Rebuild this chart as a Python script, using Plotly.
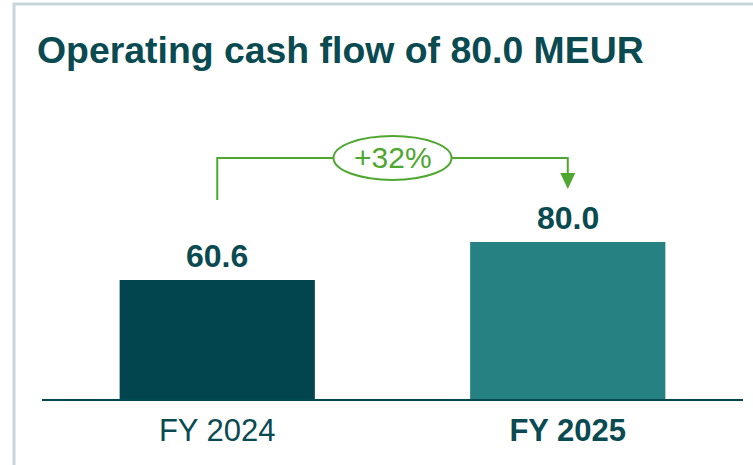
import plotly.graph_objects as go

# ---- data ----
categories = ["FY 2024", "FY 2025"]
values = [60.6, 80.0]
bar_colors = ["#03454F", "#268282"]
label_bold = [False, True]

# ---- styling constants ----
TEXT = "#0A4A51"
GREEN = "#4EA72E"
BORDER = "#C7D6DA"
FONT = "Liberation Sans, Arial, sans-serif"

x_idx = list(range(len(categories)))
growth = (values[1] / values[0] - 1) * 100

fig = go.Figure()
fig.add_trace(go.Bar(
    x=x_idx, y=values, marker=dict(color=bar_colors, line=dict(width=0)),
    width=0.557, hoverinfo="skip",
))

# value labels
for i, v in zip(x_idx, values):
    fig.add_annotation(x=i, y=v, xref="x", yref="y", text=f"<b>{v:.1f}</b>",
                       showarrow=False, yanchor="middle", yshift=24,
                       font=dict(family=FONT, size=32, color=TEXT))

# connector bracket
conn_y = 122.8
fig.add_shape(type="path", xref="x", yref="y",
              path=f"M 0,101.4 L 0,{conn_y} L 1,{conn_y} L 1,112",
              line=dict(color=GREEN, width=2))
# arrow head
fig.add_shape(type="path", xref="x", yref="y", xsizemode="pixel", ysizemode="pixel",
              xanchor=1, yanchor=conn_y,
              path="M -7.5,-15 L 7.5,-15 L 0,-31 Z",
              fillcolor=GREEN, line=dict(color=GREEN, width=0))
# ellipse
fig.add_shape(type="circle", xref="x", yref="y", xsizemode="pixel", ysizemode="pixel",
              xanchor=0.5, yanchor=conn_y, x0=-59, x1=59, y0=-22, y1=22,
              fillcolor="white", line=dict(color=GREEN, width=2))
fig.add_annotation(x=0.5, y=conn_y, xref="x", yref="y", text=f"+{growth:.0f}%",
                   showarrow=False, font=dict(family=FONT, size=30, color=GREEN))

# outer frame (top and left borders)
fig.add_shape(type="rect", xref="paper", yref="paper", xsizemode="pixel", ysizemode="pixel",
              xanchor=0, yanchor=1, x0=-28, x1=800, y0=-4, y1=-600,
              line=dict(color=BORDER, width=3), fillcolor="rgba(0,0,0,0)")

ticktext = [f"<b>{c}</b>" if b else c for c, b in zip(categories, label_bold)]

fig.update_layout(
    width=753, height=465,
    margin=dict(l=42, r=10, t=0, b=66),
    paper_bgcolor="white", plot_bgcolor="white",
    showlegend=False,
    title=dict(text="<b>Operating cash flow of 80.0 MEUR</b>", xref="container", yref="container",
               x=37 / 753, xanchor="left", y=1 - 50 / 465, yanchor="middle",
               font=dict(family=FONT, size=37.4, color=TEXT)),
    xaxis=dict(range=[-0.5, 1.5], tickvals=x_idx, ticktext=ticktext,
               showgrid=False, zeroline=False, showline=True, linecolor="#024A52", linewidth=2,
               ticks="", ticklabelstandoff=3,
               tickfont=dict(family=FONT, size=31, color=TEXT), fixedrange=True),
    yaxis=dict(range=[0, 203.3], visible=False, showgrid=False, zeroline=False, fixedrange=True),
)

fig.write_html("out.html", config={"displayModeBar": False},
               post_script="document.body.style.margin='0';document.body.style.overflow='hidden';")
